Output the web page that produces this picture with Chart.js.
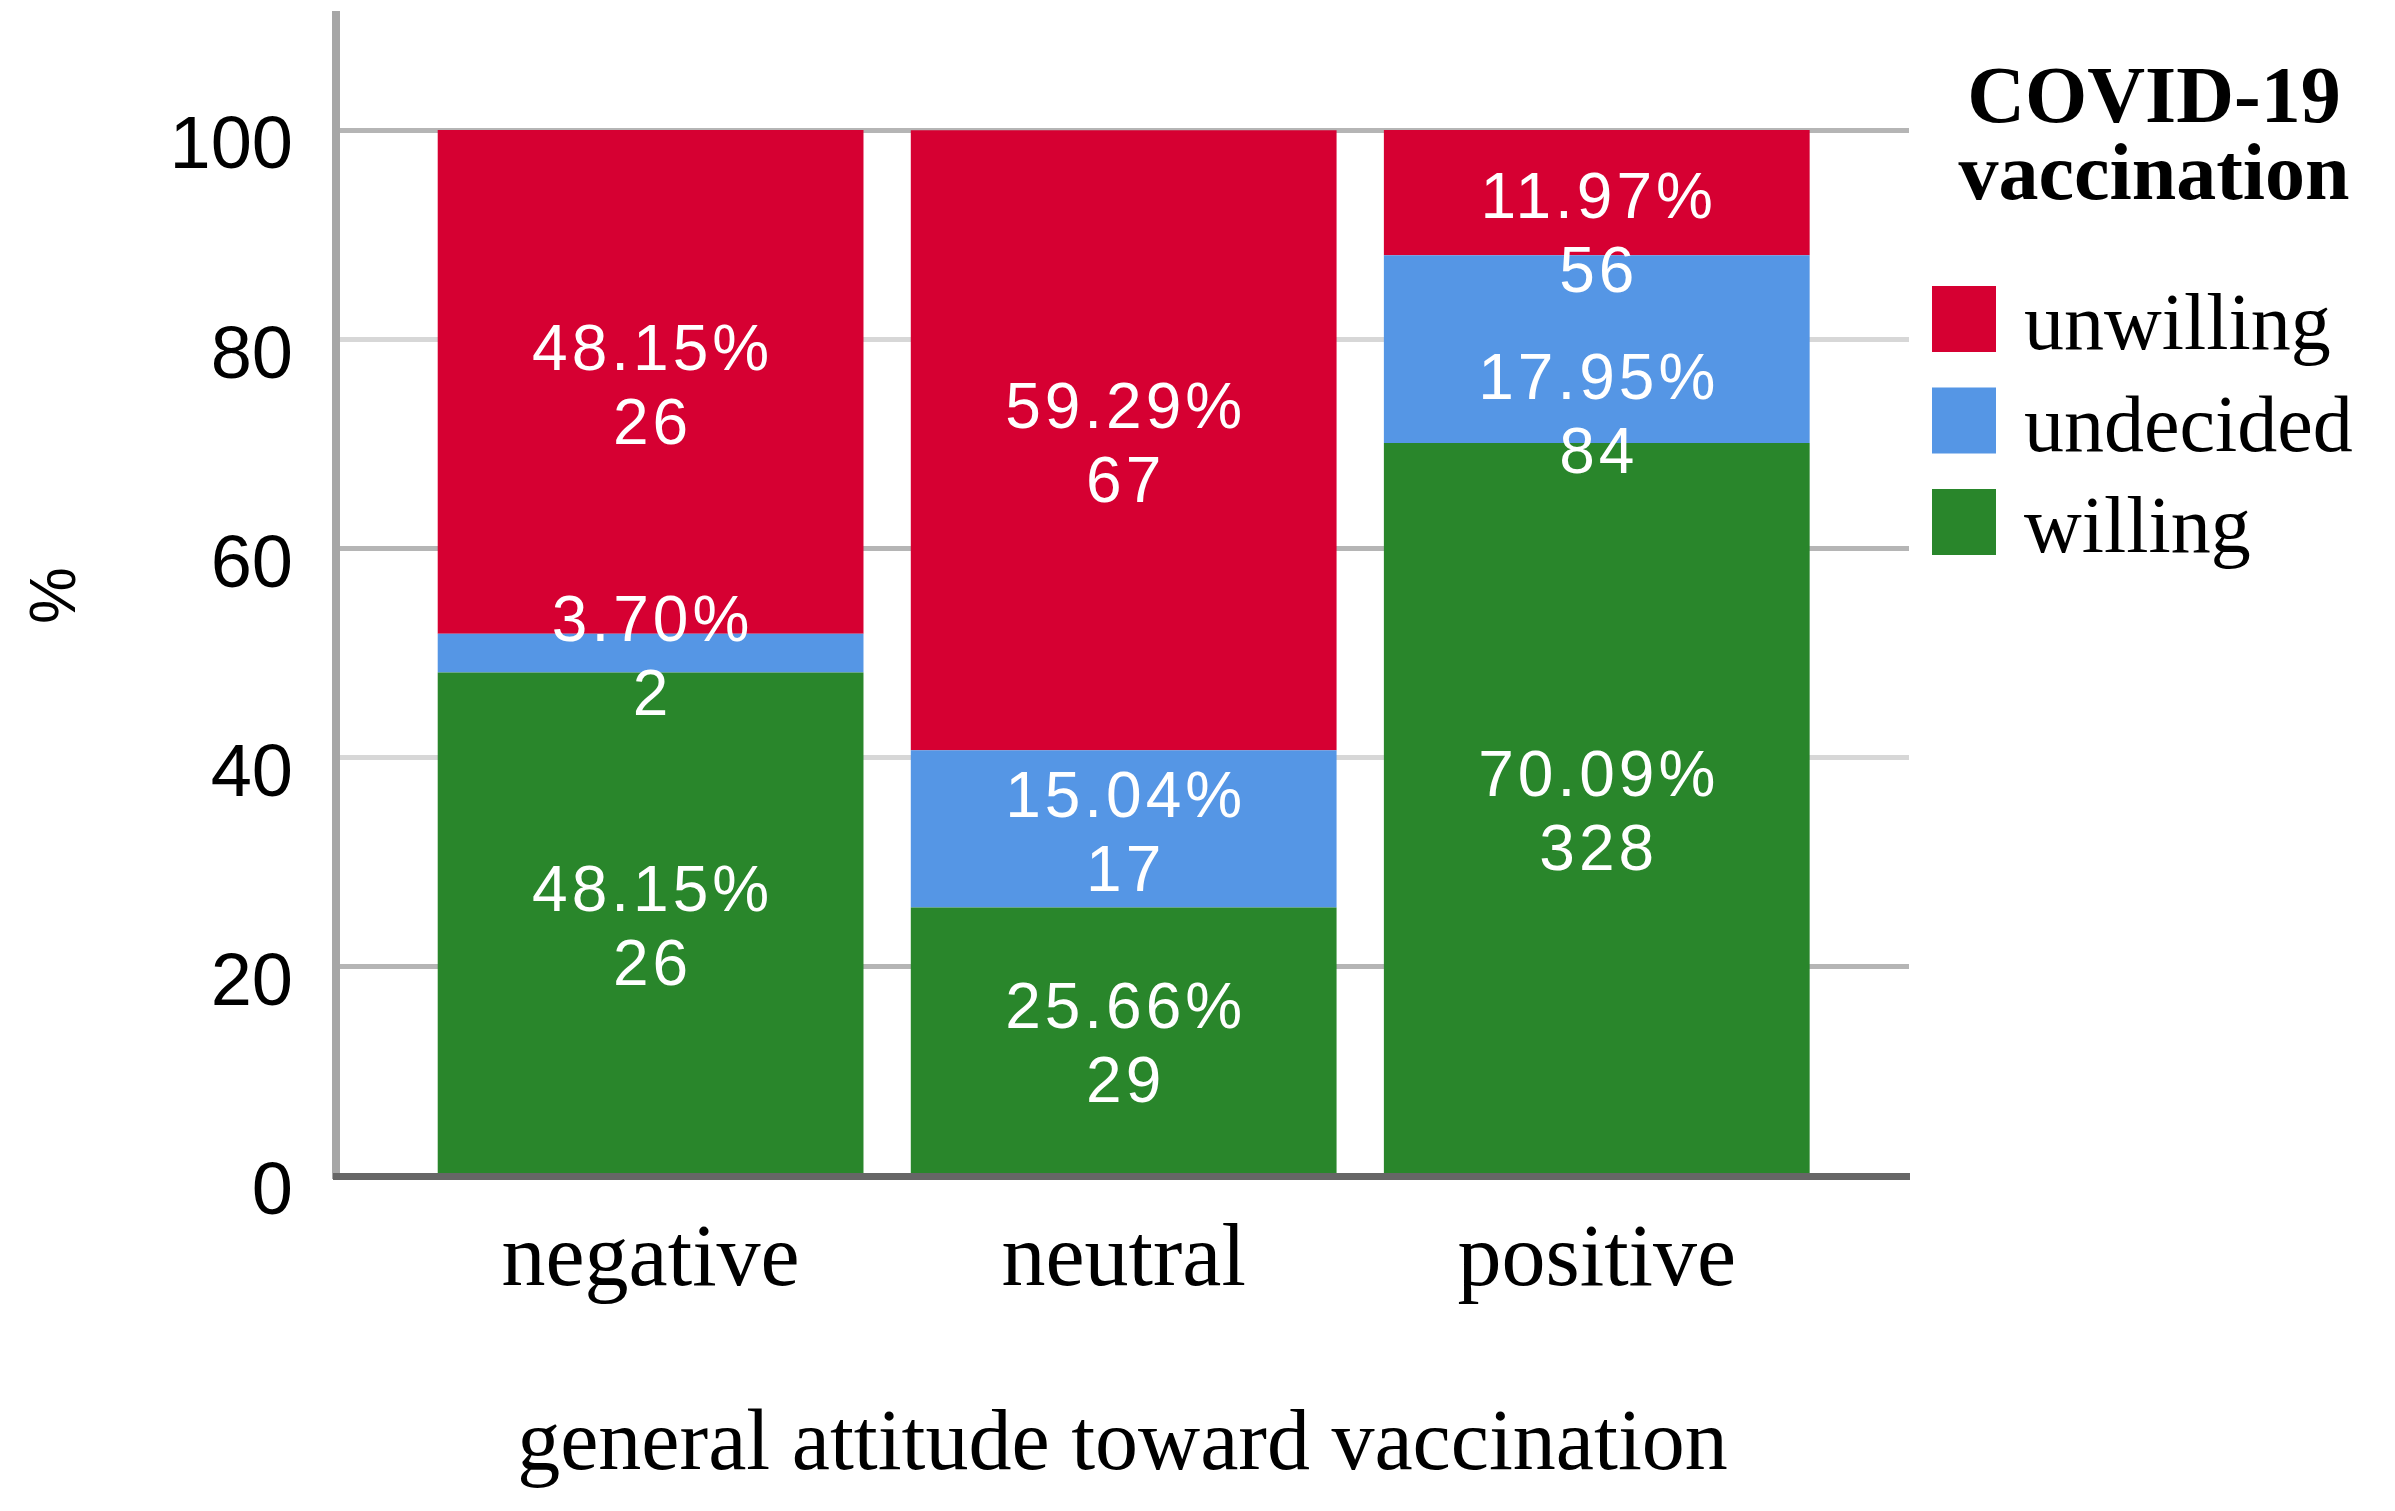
<!DOCTYPE html>
<html lang="en">
<head>
  <meta charset="UTF-8">
  <title>COVID-19 vaccination by general attitude</title>
  <script src="https://cdn.jsdelivr.net/npm/chart.js"></script>
  <style>
    html, body {
      margin: 0;
      padding: 0;
      background: #fff;
    }
    .chart-container {
      width: 2395px;
      height: 1511px;
    }
  </style>
</head>
<body>
  <div class="chart-container">
    <canvas id="vaccChart" width="2395" height="1511"></canvas>
  </div>

  <script>
    // Data
    const categories = ['negative', 'neutral', 'positive'];
    const seriesNames = ['willing', 'undecided', 'unwilling'];
    const willingPct = [48.15, 25.66, 70.09];
    const undecidedPct = [3.70, 15.04, 17.95];
    const unwillingPct = [48.15, 59.29, 11.97];
    const willingN = [26, 29, 328];
    const undecidedN = [2, 17, 84];
    const unwillingN = [26, 67, 56];
    const yTicks = [0, 20, 40, 60, 80, 100];

    const seriesColors = ['#29862b', '#5596e5', '#d60032'];
    const serif = '"Liberation Serif", "Times New Roman", serif';
    const sans = '"Liberation Sans", Arial, sans-serif';

    function makeDataset(name, pct, counts, color) {
      return {
        label: name,
        data: categories.map((_, i) => ({ x: i, y: pct[i] })),
        counts: counts,
        backgroundColor: color,
        borderWidth: 0,
        categoryPercentage: 0.9,
        barPercentage: 1.0
      };
    }

    // Two-line labels (percent + count) in the middle of each segment.
    // The original pushes the two crowded labels of the last bar down a bit.
    const segmentLabels = {
      id: 'segmentLabels',
      afterDatasetsDraw(chart, args, opts) {
        const ctx = chart.ctx;
        const shifts = opts.shifts || {};
        ctx.save();
        ctx.fillStyle = '#ffffff';
        ctx.font = '64px ' + sans;
        ctx.letterSpacing = '4px';
        ctx.textAlign = 'center';
        ctx.textBaseline = 'middle';
        chart.data.datasets.forEach((ds, di) => {
          chart.getDatasetMeta(di).data.forEach((bar, i) => {
            const cy = (bar.y + bar.base) / 2 + 7 + (shifts[di + ':' + i] || 0);
            ctx.fillText(ds.data[i].y.toFixed(2) + '%', bar.x + 2, cy - 37);
            ctx.fillText(String(ds.counts[i]), bar.x + 2, cy + 37);
          });
        });
        ctx.restore();
      }
    };

    // Legend on the right with a bold two-line title
    const sideLegend = {
      id: 'sideLegend',
      afterDraw(chart) {
        const ctx = chart.ctx;
        ctx.save();
        ctx.fillStyle = '#000';
        ctx.textAlign = 'center';
        ctx.textBaseline = 'alphabetic';
        ctx.font = 'bold 80px ' + serif;
        ctx.fillText('COVID-19', 2154, 122);
        ctx.fillText('vaccination', 2154, 199);

        ctx.textAlign = 'left';
        ctx.font = '80px ' + serif;
        const items = chart.data.datasets.slice().reverse();
        items.forEach((ds, k) => {
          const top = 286 + k * 101.5;
          ctx.fillStyle = ds.backgroundColor;
          ctx.fillRect(1932, top, 64, 66);
          ctx.fillStyle = '#000';
          ctx.fillText(ds.label, 2024, top + 63);
        });
        ctx.restore();
      }
    };

    function clearPadding(s) {
      s.paddingTop = 0;
      s.paddingBottom = 0;
      s.paddingLeft = 0;
      s.paddingRight = 0;
    }

    const ctx = document.getElementById('vaccChart').getContext('2d');

    new Chart(ctx, {
      type: 'bar',
      data: {
        datasets: [
          makeDataset(seriesNames[0], willingPct, willingN, seriesColors[0]),
          makeDataset(seriesNames[1], undecidedPct, undecidedN, seriesColors[1]),
          makeDataset(seriesNames[2], unwillingPct, unwillingN, seriesColors[2])
        ]
      },
      options: {
        responsive: false,
        devicePixelRatio: 1,
        animation: false,
        layout: {
          autoPadding: false,
          padding: { top: 15, right: 486, left: 0, bottom: 0 }
        },
        plugins: {
          legend: { display: false },
          tooltip: { enabled: false },
          segmentLabels: {
            shifts: { '2:2': 38, '1:2': 62 }
          }
        },
        scales: {
          x: {
            type: 'linear',
            min: -0.665,
            max: 2.66,
            offset: false,
            stacked: true,
            afterBuildTicks: s => { s.ticks = categories.map((_, i) => ({ value: i })); },
            afterFit: s => { s.height = 335; clearPadding(s); },
            grid: { display: false, drawTicks: false, offset: false },
            border: { display: true, color: '#666666', width: 7, z: 1 },
            ticks: {
              callback: v => categories[v],
              padding: 33,
              color: '#000',
              autoSkip: false,
              maxRotation: 0,
              font: { family: serif, size: 88 }
            },
            title: {
              display: true,
              text: 'general attitude toward vaccination',
              color: '#000',
              font: { family: serif, size: 86 },
              padding: { top: 0, bottom: 13 }
            }
          },
          y: {
            min: 0,
            max: 111,
            stacked: true,
            afterBuildTicks: s => { s.ticks = yTicks.map(v => ({ value: v })); },
            afterFit: s => { s.width = 336; clearPadding(s); },
            grid: {
              drawTicks: false,
              lineWidth: 5,
              color: c => {
                const v = c.tick ? c.tick.value : 0;
                if (v === 0) return 'rgba(0,0,0,0)';
                return v % 40 === 0 ? '#d7d7d7' : '#b5b5b5';
              }
            },
            border: { display: true, color: '#a6a6a6', width: 8 },
            ticks: {
              padding: 43,
              labelOffset: 18,
              color: '#000',
              font: { family: sans, size: 74 }
            },
            title: {
              display: true,
              text: '%',
              color: '#000',
              font: { family: sans, size: 64 },
              padding: { top: 19, bottom: 0 }
            }
          }
        }
      },
      plugins: [segmentLabels, sideLegend]
    });
  </script>
</body>
</html>
